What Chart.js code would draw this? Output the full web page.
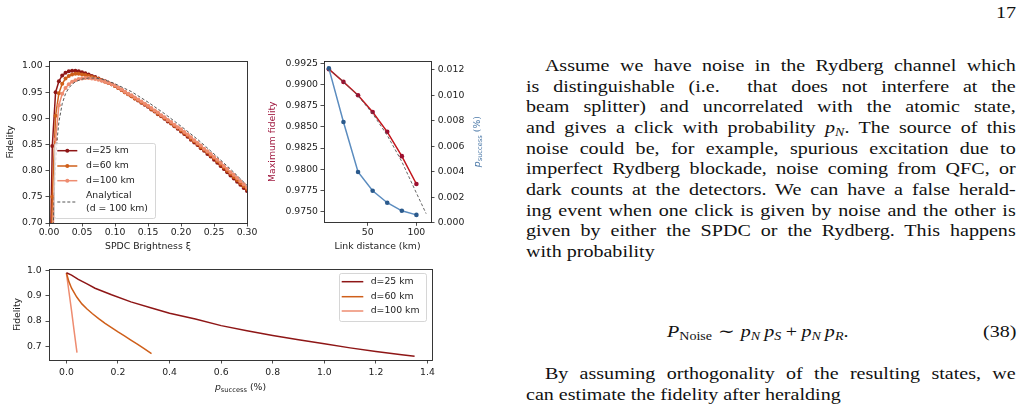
<!DOCTYPE html>
<html lang="en">
<head>
<meta charset="UTF-8" />
<title>Fidelity vs SPDC brightness, link distance and success probability</title>
<style>
  body {
    margin: 0;
    width: 1021px;
    height: 410px;
    background: #fff;
    position: relative;
    overflow: hidden;
  }

  canvas { position: absolute; }
  #c1 { left: 0; top: 50px; }
  #c2 { left: 262px; top: 50px; }
  #c3 { left: 0; top: 258px; }

  .serif {
    font-family: "Liberation Serif", "DejaVu Serif", serif;
    font-size: 17px;
    line-height: 20.67px;
    color: #111;
    position: absolute;
    transform: scaleX(1.18);
    transform-origin: 0 0;
  }

  .pg { left: 996px; top: 3px; }

  .txt { left: 526px; top: 56px; width: 415px; }
  .txt2 { left: 526px; top: 364px; width: 415px; }
  .j { text-align: justify; text-align-last: justify; white-space: nowrap; }
  .ind { text-indent: 16px; }

  .eq { left: 667px; top: 322px; }
  .eqn { left: 983px; top: 322px; }
  .rel { margin: 0 0.3em; }
  .bin { margin: 0 0.22em; }

  sub {
    font-size: 70%;
    vertical-align: baseline;
    position: relative;
    top: 0.28em;
    line-height: 0;
  }
</style>
</head>
<body>

<canvas id="c1" width="260" height="205"></canvas>
<canvas id="c2" width="250" height="205"></canvas>
<canvas id="c3" width="450" height="152"></canvas>

<div class="serif pg">17</div>

<div class="serif txt">
  <div class="j ind">Assume we have noise in the Rydberg channel which</div>
  <div class="j">is distinguishable (i.e.&nbsp; that does not interfere at the</div>
  <div class="j">beam splitter) and uncorrelated with the atomic state,</div>
  <div class="j">and gives a click with probability <i>p<sub>N</sub></i>. The source of this</div>
  <div class="j">noise could be, for example, spurious excitation due to</div>
  <div class="j">imperfect Rydberg blockade, noise coming from QFC, or</div>
  <div class="j">dark counts at the detectors. We can have a false herald-</div>
  <div class="j">ing event when one click is given by noise and the other is</div>
  <div class="j">given by either the SPDC or the Rydberg. This happens</div>
  <div>with probability</div>
</div>

<div class="serif eq"><i>P</i><sub>Noise</sub><span class="rel">&sim;</span><i>p<sub>N</sub>&thinsp;p<sub>S</sub></i><span class="bin">+</span><i>p<sub>N</sub>&thinsp;p<sub>R</sub></i>.</div>
<div class="serif eqn">(38)</div>

<div class="serif txt2">
  <div class="j ind">By assuming orthogonality of the resulting states, we</div>
  <div>can estimate the fidelity after heralding</div>
</div>

<script src="https://cdn.jsdelivr.net/npm/chart.js"></script>
<script>
// ---- panel (a): fidelity vs SPDC brightness ----
const xi = [
  0.000, 0.005, 0.010, 0.015, 0.020, 0.025, 0.030, 0.035, 0.040, 0.045,
  0.050, 0.055, 0.060, 0.065, 0.070, 0.075, 0.080, 0.085, 0.090, 0.095,
  0.100, 0.105, 0.110, 0.115, 0.120, 0.125, 0.130, 0.135, 0.140, 0.145,
  0.150, 0.155, 0.160, 0.165, 0.170, 0.175, 0.180, 0.185, 0.190, 0.195,
  0.200, 0.205, 0.210, 0.215, 0.220, 0.225, 0.230, 0.235, 0.240, 0.245,
  0.250, 0.255, 0.260, 0.265, 0.270, 0.275, 0.280, 0.285, 0.290, 0.295,
  0.300
];
const fid25 = [
  0.500, 0.847, 0.950, 0.971, 0.982, 0.987, 0.990, 0.991, 0.991, 0.990,
  0.988, 0.986, 0.984, 0.981, 0.979, 0.976, 0.973, 0.971, 0.968, 0.965,
  0.962, 0.958, 0.954, 0.950, 0.946, 0.942, 0.938, 0.934, 0.930, 0.926,
  0.922, 0.917, 0.913, 0.908, 0.904, 0.899, 0.894, 0.890, 0.885, 0.880,
  0.875, 0.870, 0.865, 0.859, 0.854, 0.849, 0.843, 0.838, 0.832, 0.827,
  0.821, 0.815, 0.809, 0.803, 0.797, 0.791, 0.785, 0.779, 0.773, 0.767,
  0.761
];
const fid60 = [
  0.400, 0.750, 0.905, 0.948, 0.966, 0.976, 0.981, 0.984, 0.985, 0.985,
  0.984, 0.983, 0.981, 0.979, 0.977, 0.975, 0.973, 0.970, 0.968, 0.965,
  0.962, 0.958, 0.954, 0.950, 0.946, 0.942, 0.938, 0.935, 0.931, 0.927,
  0.923, 0.918, 0.914, 0.909, 0.905, 0.900, 0.896, 0.891, 0.886, 0.882,
  0.877, 0.872, 0.867, 0.861, 0.856, 0.851, 0.845, 0.840, 0.835, 0.829,
  0.824, 0.818, 0.812, 0.806, 0.800, 0.794, 0.788, 0.782, 0.776, 0.770,
  0.765
];
const fid100 = [
  0.300, 0.620, 0.860, 0.925, 0.947, 0.958, 0.965, 0.970, 0.973, 0.975,
  0.976, 0.977, 0.977, 0.976, 0.975, 0.974, 0.972, 0.970, 0.968, 0.965,
  0.963, 0.959, 0.955, 0.951, 0.947, 0.944, 0.940, 0.936, 0.932, 0.928,
  0.924, 0.920, 0.915, 0.911, 0.906, 0.902, 0.897, 0.893, 0.888, 0.883,
  0.879, 0.874, 0.869, 0.864, 0.858, 0.853, 0.848, 0.842, 0.837, 0.832,
  0.826, 0.821, 0.815, 0.809, 0.803, 0.797, 0.792, 0.786, 0.780, 0.774,
  0.768
];
const anaXi = [0.005, 0.0075, 0.010, 0.0125, 0.015, 0.020, 0.025, 0.030, 0.035, 0.040,
  0.050, 0.060, 0.070, 0.080, 0.090, 0.100, 0.125, 0.150, 0.175, 0.200,
  0.225, 0.250, 0.275, 0.300];
const anaFid = [0.600, 0.740, 0.815, 0.862, 0.893, 0.928, 0.947, 0.958, 0.965, 0.970,
  0.975, 0.977, 0.977, 0.975, 0.971, 0.966, 0.951, 0.931, 0.909, 0.885,
  0.860, 0.832, 0.803, 0.772];
const xiTicks = [0.00, 0.05, 0.10, 0.15, 0.20, 0.25, 0.30];
const fidTicks = [0.70, 0.75, 0.80, 0.85, 0.90, 0.95, 1.00];

// ---- panel (b): maximum fidelity and p_success vs link distance ----
const distKm = [10, 25, 40, 55, 70, 85, 100];
const maxFid = [0.99179, 0.99029, 0.98872, 0.98674, 0.98441, 0.98154, 0.97826];
const pSuccess = [0.01209, 0.00790, 0.00399, 0.00252, 0.00158, 0.00095, 0.00063];
const anaDist = [10, 25, 40, 55, 70, 85, 100, 110];
const anaMaxFid = [0.99180, 0.99030, 0.98865, 0.98655, 0.98400, 0.98090, 0.97720, 0.97477];
const distTicks = [50, 100];
const maxFidTicks = [0.9750, 0.9775, 0.9800, 0.9825, 0.9850, 0.9875, 0.9900, 0.9925];
const pSuccessTicks = [0.000, 0.002, 0.004, 0.006, 0.008, 0.010, 0.012];

// ---- panel (c): fidelity vs p_success ----
const p25 = [0, 0.02, 0.046, 0.08, 0.111, 0.175, 0.25, 0.33, 0.40, 0.50, 0.60, 0.70, 0.80, 0.90, 1.00, 1.10, 1.20, 1.30, 1.35];
const f25 = [0.991, 0.982, 0.965, 0.947, 0.930, 0.904, 0.876, 0.852, 0.831, 0.808, 0.782, 0.762, 0.743, 0.726, 0.710, 0.694, 0.680, 0.667, 0.661];
const p60 = [0, 0.01, 0.02, 0.04, 0.06, 0.08, 0.10, 0.125, 0.15, 0.175, 0.20, 0.225, 0.25, 0.275, 0.30, 0.33];
const f60 = [0.990, 0.955, 0.930, 0.895, 0.868, 0.848, 0.830, 0.810, 0.791, 0.774, 0.757, 0.741, 0.725, 0.709, 0.692, 0.671];
const p100 = [0, 0.01, 0.02, 0.03, 0.041];
const f100 = [0.990, 0.915, 0.840, 0.760, 0.675];
const pTicks = [0.0, 0.2, 0.4, 0.6, 0.8, 1.0, 1.2, 1.4];
const fTicks = [0.7, 0.8, 0.9, 1.0];

const C25 = '#8e1616';
const C60 = '#cf5f1a';
const C100 = '#ee8c70';
const INK = '#222';
const FONT = { family: '"DejaVu Sans", sans-serif', size: 9.3 };

const pts = (xs, ys) => xs.map((x, i) => ({ x: x, y: ys[i] }));

function axis(o) {
  return {
    type: 'linear',
    position: o.position,
    min: o.min,
    max: o.max,
    afterBuildTicks: s => { s.ticks = o.ticks.map(v => ({ value: v })); },
    afterFit: s => {
      if (s.isHorizontal()) s.height = o.size; else s.width = o.size;
    },
    border: { display: false },
    grid: {
      display: true,
      drawOnChartArea: false,
      drawTicks: true,
      tickLength: 3.5,
      tickColor: INK,
      tickWidth: 0.8
    },
    ticks: {
      font: FONT,
      color: INK,
      padding: o.pad,
      maxRotation: 0,
      autoSkip: false,
      callback: v => Number(v).toFixed(o.dec)
    },
    title: o.title
      ? { display: true, text: o.title, font: FONT, color: o.titleColor || INK, padding: o.titlePad }
      : { display: false }
  };
}

// axes box on all four sides
const frame = {
  id: 'frame',
  afterDatasetsDraw(chart) {
    const { ctx, chartArea: a } = chart;
    ctx.save();
    ctx.strokeStyle = INK;
    ctx.lineWidth = 0.9;
    ctx.strokeRect(Math.round(a.left) + 0.5, Math.round(a.top) + 0.5,
      Math.round(a.right - a.left), Math.round(a.bottom - a.top));
    ctx.restore();
  }
};

// matplotlib-like legend box
const boxLegend = {
  id: 'boxLegend',
  afterDraw(chart, args, o) {
    if (!o || !o.items) return;
    const ctx = chart.ctx;
    const [x0, y0, x1, y1] = o.box;
    ctx.save();
    ctx.beginPath();
    ctx.roundRect(x0 + 0.5, y0 + 0.5, x1 - x0, y1 - y0, 2);
    ctx.fillStyle = 'rgba(255,255,255,0.8)';
    ctx.fill();
    ctx.strokeStyle = '#cccccc';
    ctx.lineWidth = 0.8;
    ctx.stroke();
    o.items.forEach(it => {
      const ds = chart.data.datasets[it.ds];
      const ly = it.lineY != null ? it.lineY : it.y;
      ctx.strokeStyle = ds.borderColor;
      ctx.lineWidth = ds.borderWidth;
      ctx.setLineDash(ds.borderDash || []);
      ctx.beginPath();
      ctx.moveTo(o.lineX[0], ly);
      ctx.lineTo(o.lineX[1], ly);
      ctx.stroke();
      ctx.setLineDash([]);
      if (ds.pointRadius) {
        ctx.fillStyle = ds.pointBackgroundColor;
        ctx.beginPath();
        ctx.arc((o.lineX[0] + o.lineX[1]) / 2, ly, ds.pointRadius, 0, Math.PI * 2);
        ctx.fill();
      }
      ctx.fillStyle = INK;
      ctx.font = FONT.size + 'px ' + FONT.family;
      ctx.textAlign = 'left';
      ctx.textBaseline = 'middle';
      ds.label.split('\n').forEach((t, k) => ctx.fillText(t, o.textX, it.y + k * o.lineGap));
    });
    ctx.restore();
  }
};

// "p_success (%)" axis label with a real subscript
const pLabel = {
  id: 'pLabel',
  afterDraw(chart, args, o) {
    if (!o || o.x == null) return;
    const ctx = chart.ctx;
    const big = FONT.size + 'px ' + FONT.family;
    const ital = 'italic ' + FONT.size + 'px ' + FONT.family;
    const small = (FONT.size * 0.72).toFixed(2) + 'px ' + FONT.family;
    const parts = [
      { t: 'p', f: ital, dy: 0 },
      { t: 'success', f: small, dy: 2.2 },
      { t: ' (%)', f: big, dy: 0 }
    ];
    ctx.save();
    let w = 0;
    parts.forEach(p => { ctx.font = p.f; p.w = ctx.measureText(p.t).width; w += p.w; });
    ctx.translate(o.x, o.y);
    ctx.rotate(o.rot || 0);
    ctx.fillStyle = o.color || INK;
    ctx.textBaseline = 'middle';
    ctx.textAlign = 'left';
    let x = -w / 2;
    parts.forEach(p => { ctx.font = p.f; ctx.fillText(p.t, x, p.dy); x += p.w; });
    ctx.restore();
  }
};

const base = {
  responsive: false,
  animation: false,
  events: [],
  plugins: { legend: { display: false }, tooltip: { enabled: false } }
};

// panel (a)
new Chart(document.getElementById('c1'), {
  type: 'line',
  data: {
    datasets: [
      { label: 'd=25 km', data: pts(xi, fid25), borderColor: C25, backgroundColor: C25,
        pointBackgroundColor: C25, borderWidth: 1.5, pointRadius: 2, pointBorderWidth: 0, order: 4 },
      { label: 'd=60 km', data: pts(xi, fid60), borderColor: C60, backgroundColor: C60,
        pointBackgroundColor: C60, borderWidth: 1.5, pointRadius: 2, pointBorderWidth: 0, order: 3 },
      { label: 'd=100 km', data: pts(xi, fid100), borderColor: C100, backgroundColor: C100,
        pointBackgroundColor: C100, borderWidth: 1.5, pointRadius: 2, pointBorderWidth: 0, order: 2 },
      { label: 'Analytical\n(d = 100 km)', data: pts(anaXi, anaFid), borderColor: '#555',
        borderWidth: 1, borderDash: [3, 2], pointRadius: 0, order: 1 }
    ]
  },
  options: {
    ...base,
    layout: { padding: { top: 11, right: 13, left: 0, bottom: 0 } },
    scales: {
      x: axis({ position: 'bottom', min: 0, max: 0.30, ticks: xiTicks, dec: 2, size: 32, pad: 1,
        title: 'SPDC Brightness \u03be', titlePad: { top: 0, bottom: 2.4 } }),
      y: axis({ position: 'left', min: 0.70, max: 1.0096, ticks: fidTicks, dec: 2, size: 49, pad: 2.8,
        title: 'Fidelity', titlePad: { top: 5.4, bottom: 0 } })
    },
    plugins: {
      ...base.plugins,
      boxLegend: {
        box: [54, 93, 155, 168],
        lineX: [57.3, 77.3],
        textX: 86,
        lineGap: 12.6,
        items: [
          { ds: 0, y: 100.7 },
          { ds: 1, y: 116 },
          { ds: 2, y: 130.7 },
          { ds: 3, y: 145.7, lineY: 152 }
        ]
      }
    }
  },
  plugins: [frame, boxLegend]
});

// panel (b)
new Chart(document.getElementById('c2'), {
  type: 'line',
  data: {
    datasets: [
      { label: 'Maximum fidelity', data: pts(distKm, maxFid), yAxisID: 'y', borderColor: '#c2151c',
        pointBackgroundColor: '#9c0f2f', borderWidth: 1.5, pointRadius: 2.3, pointBorderWidth: 0, order: 3 },
      { label: 'Analytical', data: pts(anaDist, anaMaxFid), yAxisID: 'y', borderColor: '#555',
        borderWidth: 0.9, borderDash: [3, 2], pointRadius: 0, order: 1 },
      { label: 'p_success', data: pts(distKm, pSuccess), yAxisID: 'y1', borderColor: '#5b8cbf',
        pointBackgroundColor: '#2b5a8c', borderWidth: 1.5, pointRadius: 2.3, pointBorderWidth: 0, order: 2 }
    ]
  },
  options: {
    ...base,
    layout: { padding: { top: 11, right: 0, left: 0, bottom: 0 } },
    scales: {
      x: axis({ position: 'bottom', min: 5, max: 115, ticks: distTicks, dec: 0, size: 32.7, pad: 1,
        title: 'Link distance (km)', titlePad: { top: 0, bottom: 2.4 } }),
      y: axis({ position: 'left', min: 0.97375, max: 0.99275, ticks: maxFidTicks, dec: 4, size: 62, pad: 2.5,
        title: 'Maximum fidelity', titleColor: '#a01a40', titlePad: { top: 5.1, bottom: 0 } }),
      y1: axis({ position: 'right', min: 0.00005, max: 0.01267, ticks: pSuccessTicks, dec: 3, size: 81, pad: 3.2 })
    },
    plugins: {
      ...base.plugins,
      pLabel: { x: 216, y: 91.7, rot: -Math.PI / 2, color: '#4c79a8' }
    }
  },
  plugins: [frame, pLabel]
});

// panel (c)
new Chart(document.getElementById('c3'), {
  type: 'line',
  data: {
    datasets: [
      { label: 'd=25 km', data: pts(p25, f25), borderColor: C25, borderWidth: 1.5, pointRadius: 0 },
      { label: 'd=60 km', data: pts(p60, f60), borderColor: C60, borderWidth: 1.5, pointRadius: 0 },
      { label: 'd=100 km', data: pts(p100, f100), borderColor: C100, borderWidth: 1.5, pointRadius: 0 }
    ]
  },
  options: {
    ...base,
    layout: { padding: { top: 11, right: 18, left: 0, bottom: 0 } },
    scales: {
      x: axis({ position: 'bottom', min: -0.0675, max: 1.4175, ticks: pTicks, dec: 1, size: 50, pad: 3.3 }),
      y: axis({ position: 'left', min: 0.646, max: 1.006, ticks: fTicks, dec: 1, size: 49, pad: 3.8,
        title: 'Fidelity', titlePad: { top: 11.7, bottom: 0 } })
    },
    plugins: {
      ...base.plugins,
      boxLegend: {
        box: [339, 15, 426, 63],
        lineX: [341.7, 363.3],
        textX: 370.7,
        lineGap: 12.6,
        items: [
          { ds: 0, y: 23.7 },
          { ds: 1, y: 38.7 },
          { ds: 2, y: 53 }
        ]
      },
      pLabel: { x: 240.5, y: 129.7, rot: 0, color: INK }
    }
  },
  plugins: [frame, boxLegend, pLabel]
});
</script>
</body>
</html>
